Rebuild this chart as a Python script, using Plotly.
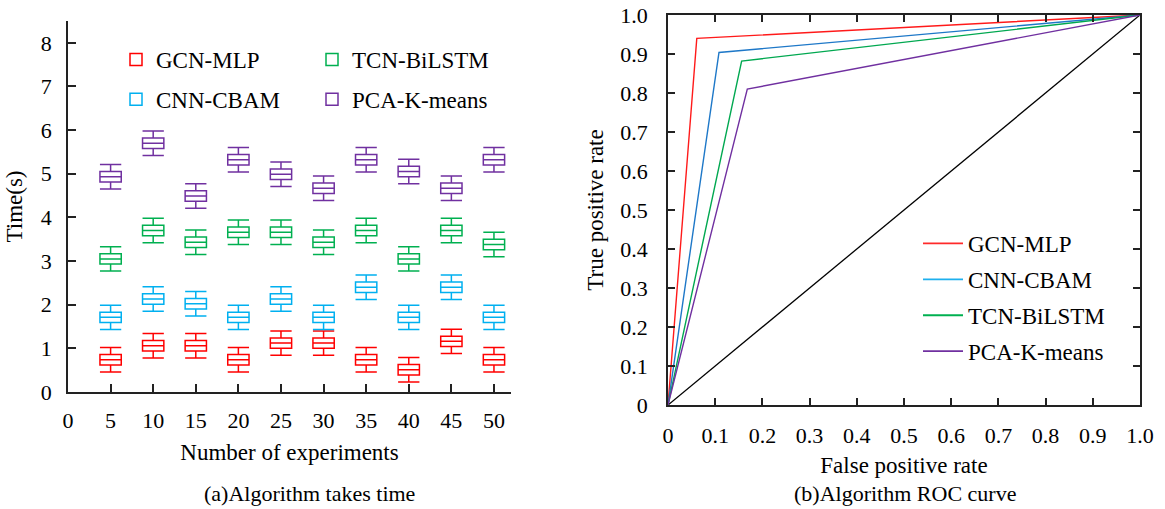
import plotly.graph_objects as go

# ---------------- data ----------------
experiments = [5, 10, 15, 20, 25, 30, 35, 40, 45, 50]
gcn_mlp_time = [0.74, 1.06, 1.06, 0.74, 1.12, 1.12, 0.74, 0.51, 1.16, 0.74]
cnn_cbam_time = [1.71, 2.13, 2.02, 1.71, 2.13, 1.71, 2.40, 1.71, 2.40, 1.71]
tcn_bilstm_time = [3.05, 3.70, 3.43, 3.66, 3.66, 3.43, 3.70, 3.05, 3.70, 3.38]
pca_kmeans_time = [4.93, 5.70, 4.49, 5.32, 4.99, 4.67, 5.32, 5.05, 4.67, 5.32]
box_half = 0.12      # half height of each box
whisker_half = 0.28  # half span of whiskers

roc_fpr = {
    "GCN-MLP": [0, 0.061, 1],
    "CNN-CBAM": [0, 0.108, 1],
    "TCN-BiLSTM": [0, 0.156, 1],
    "PCA-K-means": [0, 0.168, 1],
}
roc_tpr = {
    "GCN-MLP": [0, 0.94, 1],
    "CNN-CBAM": [0, 0.904, 1],
    "TCN-BiLSTM": [0, 0.882, 1],
    "PCA-K-means": [0, 0.81, 1],
}
diag_x = [0, 1]
diag_y = [0, 1]

x_ticks_left = [0, 5, 10, 15, 20, 25, 30, 35, 40, 45, 50]
y_ticks_left = [0, 1, 2, 3, 4, 5, 6, 7, 8]
roc_ticks = [0, 0.1, 0.2, 0.3, 0.4, 0.5, 0.6, 0.7, 0.8, 0.9, 1.0]
roc_tick_text = ["0", "0.1", "0.2", "0.3", "0.4", "0.5", "0.6", "0.7", "0.8", "0.9", "1.0"]

# ---------------- style ----------------
FONT = "Liberation Serif, Times New Roman, serif"
box_colors = {"GCN-MLP": "#FF0000", "CNN-CBAM": "#00B0F0",
              "TCN-BiLSTM": "#00B050", "PCA-K-means": "#7030A0"}
roc_colors = {"GCN-MLP": "#FF1A1A", "CNN-CBAM": "#1E78C8",
              "TCN-BiLSTM": "#00A850", "PCA-K-means": "#7030A0"}
roc_legend_colors = {"GCN-MLP": "#FF2A2A", "CNN-CBAM": "#1EB0EE",
                     "TCN-BiLSTM": "#00B050", "PCA-K-means": "#7030A0"}
AX = "#222222"

fig = go.Figure()

box_series = [
    ("GCN-MLP", gcn_mlp_time, "legend"),
    ("CNN-CBAM", cnn_cbam_time, "legend"),
    ("TCN-BiLSTM", tcn_bilstm_time, "legend3"),
    ("PCA-K-means", pca_kmeans_time, "legend3"),
]
for name, med, leg in box_series:
    fig.add_trace(go.Box(
        name=name, x=experiments,
        median=med,
        q1=[m - box_half for m in med], q3=[m + box_half for m in med],
        lowerfence=[m - whisker_half for m in med],
        upperfence=[m + whisker_half for m in med],
        width=2.5, whiskerwidth=1, boxpoints=False,
        line=dict(color=box_colors[name], width=1.5),
        fillcolor="rgba(0,0,0,0)",
        xaxis="x", yaxis="y", legend=leg, legendgroup="b" + name,
    ))

fig.add_trace(go.Scatter(x=diag_x, y=diag_y, mode="lines",
                         line=dict(color="black", width=1.3),
                         showlegend=False, xaxis="x2", yaxis="y2"))
for name in ["GCN-MLP", "CNN-CBAM", "TCN-BiLSTM", "PCA-K-means"]:
    fig.add_trace(go.Scatter(
        x=roc_fpr[name], y=roc_tpr[name], mode="lines", name=name,
        line=dict(color=roc_colors[name], width=1.4),
        xaxis="x2", yaxis="y2", showlegend=False, legendgroup="r" + name,
    ))
    # legend entry (the reference legend uses slightly lighter swatches)
    fig.add_trace(go.Scatter(
        x=[None], y=[None], mode="lines", name=name,
        line=dict(color=roc_legend_colors[name], width=1.8),
        xaxis="x2", yaxis="y2", legend="legend2", legendgroup="r" + name,
    ))

W, H = 1165, 509
def px_x(p): return p / W
def px_y(p): return (H - p) / H

tick_font = dict(family=FONT, size=22, color="black")
title_font = dict(family=FONT, size=23, color="black")
leg_font = dict(family=FONT, size=23, color="black")

common = dict(ticks="inside", tickwidth=1.5, tickcolor=AX, showline=True,
              linecolor=AX, linewidth=1.5, showgrid=False, zeroline=False,
              tickfont=tick_font, automargin=False)

fig.update_layout(
    template="none",
    width=W, height=H,
    margin=dict(l=0, r=0, t=0, b=0, pad=0),
    paper_bgcolor="white", plot_bgcolor="white",
    boxmode="overlay",
    font=dict(family=FONT, color="black"),
    xaxis=dict(domain=[px_x(68), px_x(511)], range=[0, 52],
               tickvals=x_ticks_left, ticklen=8, ticklabelstandoff=8,
               title=dict(text="Number of experiments", font=title_font, standoff=12),
               anchor="y", **common),
    yaxis=dict(domain=[px_y(392), px_y(21)], range=[0, 8.5],
               tickvals=y_ticks_left, ticklen=8, ticklabelstandoff=10,
               title=dict(text="Time(s)", font=title_font, standoff=12),
               anchor="x", **common),
    xaxis2=dict(domain=[px_x(668), px_x(1140)], range=[0, 1],
                tickvals=roc_ticks, ticktext=roc_tick_text, ticklen=7,
                mirror="ticks", ticklabelstandoff=10,
                title=dict(text="False positive rate", font=title_font, standoff=10),
                anchor="y2", **common),
    yaxis2=dict(domain=[px_y(405), px_y(15)], range=[0, 1],
                tickvals=roc_ticks, ticktext=roc_tick_text, ticklen=7,
                mirror="ticks", ticklabelstandoff=14,
                title=dict(text="True positive rate", font=title_font, standoff=10),
                anchor="x2", **common),
    legend=dict(x=px_x(116), y=px_y(38), xanchor="left", yanchor="top",
                orientation="v", font=leg_font, bgcolor="rgba(0,0,0,0)",
                tracegroupgap=7, itemwidth=30),
    legend3=dict(x=px_x(312), y=px_y(38), xanchor="left", yanchor="top",
                 orientation="v", font=leg_font, bgcolor="rgba(0,0,0,0)",
                 tracegroupgap=7, itemwidth=30),
    legend2=dict(x=px_x(918), y=px_y(222), xanchor="left", yanchor="top",
                 orientation="v", font=leg_font, bgcolor="rgba(0,0,0,0)",
                 tracegroupgap=3, itemwidth=40),
    annotations=[
        dict(text="(a)Algorithm takes time", x=px_x(309), y=px_y(493),
             xref="paper", yref="paper", xanchor="center", yanchor="middle",
             showarrow=False, font=dict(family=FONT, size=22, color="black")),
        dict(text="(b)Algorithm ROC curve", x=px_x(905), y=px_y(493),
             xref="paper", yref="paper", xanchor="center", yanchor="middle",
             showarrow=False, font=dict(family=FONT, size=22, color="black")),
    ],
)

fig.write_html("out.html")
